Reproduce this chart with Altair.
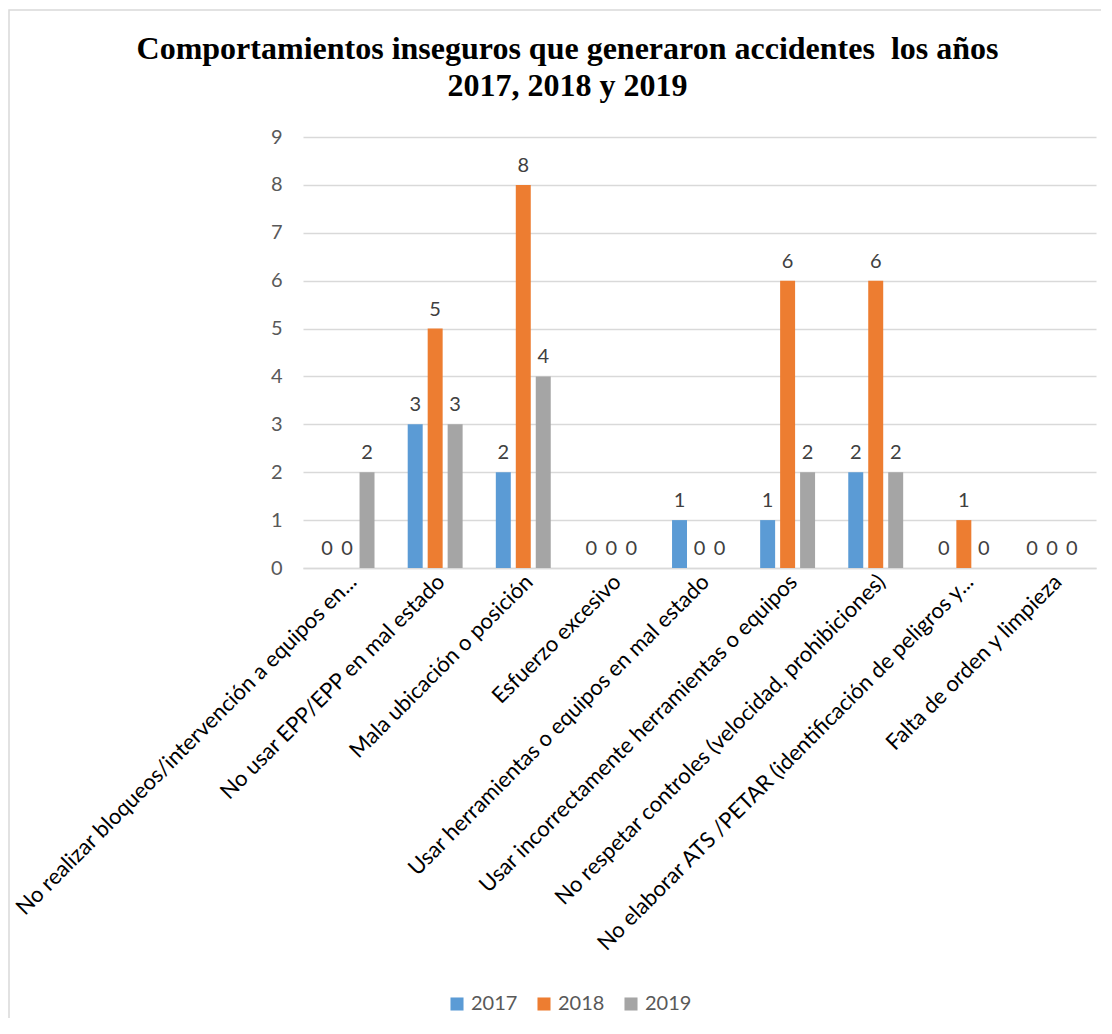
import altair as alt
import pandas as pd

categories = [
    "No realizar bloqueos/intervención a equipos en...",
    "No usar EPP/EPP en mal estado",
    "Mala ubicación o posición",
    "Esfuerzo excesivo",
    "Usar herramientas o equipos en mal estado",
    "Usar incorrectamente herramientas o equipos",
    "No respetar controles (velocidad, prohibiciones)",
    "No elaborar ATS /PETAR (identificación de peligros y...",
    "Falta de orden y limpieza",
]
years = ["2017", "2018", "2019"]
v2017 = [0, 3, 2, 0, 1, 1, 2, 0, 0]
v2018 = [0, 5, 8, 0, 0, 6, 6, 1, 0]
v2019 = [2, 3, 4, 0, 0, 2, 2, 0, 0]
colors = ["#5B9BD5", "#ED7D31", "#A5A5A5"]
title_lines = ["Comportamientos inseguros que generaron accidentes\u00a0 los años",
               "2017, 2018 y 2019"]

rows = []
for yr, vals in zip(years, [v2017, v2018, v2019]):
    for c, v in zip(categories, vals):
        rows.append({"cat": c, "year": yr, "value": v})
df = pd.DataFrame(rows)

W, H = 793, 431
FONT = "Lato"

x_enc = alt.X("cat:N", sort=categories, title=None,
              scale=alt.Scale(paddingInner=0.32, paddingOuter=0.16),
              axis=alt.Axis(labelAngle=-45, labelAlign="right", labelBaseline="middle",
                            labelPadding=10, labelLimit=800, labelFontSize=22,
                            labelOffset=6,
                            labelFont=FONT, labelColor="#000000", ticks=False,
                            domainColor="#d9d9d9", domainWidth=1.5, grid=False))
xo_enc = alt.XOffset("year:N", sort=years,
                     scale=alt.Scale(paddingInner=0.25, paddingOuter=0.125))
y_enc = alt.Y("value:Q", title=None,
              scale=alt.Scale(domain=[0, 9], nice=False),
              axis=alt.Axis(values=list(range(10)), grid=True, gridColor="#d9d9d9",
                            gridWidth=1.5, domain=False, ticks=False, labelPadding=21,
                            labelFontSize=20, labelFont=FONT, labelColor="#595959"))

base = alt.Chart(df)

bars = base.mark_bar().encode(
    x=x_enc, xOffset=xo_enc, y=y_enc,
    color=alt.Color("year:N", sort=years,
                    scale=alt.Scale(domain=years, range=colors),
                    legend=alt.Legend(title=None, orient="none", direction="horizontal",
                                      legendX=144, legendY=857, symbolType="square",
                                      symbolSize=170, symbolStrokeWidth=0,
                                      labelFontSize=20, labelFont=FONT,
                                      labelColor="#595959", columnPadding=16,
                                      symbolOffset=0)),
)

labels = base.mark_text(baseline="bottom", dy=-9, fontSize=20, font=FONT,
                        color="#404040").encode(
    x=alt.X("cat:N", sort=categories), xOffset=alt.XOffset("year:N", sort=years),
    y="value:Q", text="value:Q",
)

frame = alt.Chart(pd.DataFrame({"k": [0]})).mark_rect(
    fill=None, stroke="#d9d9d9", strokeWidth=1.5
).encode(x=alt.value(-294), x2=alt.value(W + 40), y=alt.value(-127), y2=alt.value(920))

chart = alt.layer(frame, bars, labels).properties(
    width=W, height=H,
    title=alt.TitleParams(
        text=title_lines,
        font="Liberation Serif", fontSize=32, fontWeight="bold", color="#000000",
        anchor="middle", dx=-132, offset=-94, lineHeight=37,
    ),
    autosize=alt.AutoSizeParams(type="none"),
    padding={"left": 295, "top": 129, "right": 5, "bottom": 450},
).configure_view(stroke=None)

chart.save("out.html", embed_options={"renderer": "svg", "actions": False})
